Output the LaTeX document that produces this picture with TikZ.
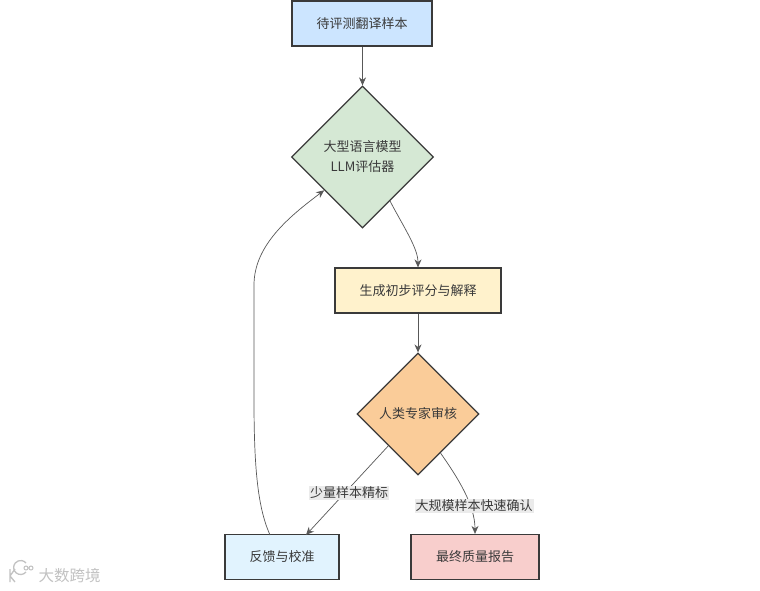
\documentclass[tikz,border=0pt]{standalone}
\usepackage{fontspec}
\setmainfont{Noto Sans CJK SC}
\usetikzlibrary{shapes.geometric,arrows.meta}
\definecolor{ink}{HTML}{3A3A3A}
\tikzset{
  x=1pt,y=-1pt,
  every node/.style={text=ink,font=\fontsize{13}{20}\selectfont},
  boxnode/.style={draw=ink,line width=1.2pt,rectangle,inner sep=0pt,minimum height=45pt},
  dianode/.style={draw=ink,line width=1.2pt,diamond,aspect=1,inner sep=0pt,align=center},
  flow/.style={draw=ink!85,line width=0.7pt,-{Stealth[length=8pt,width=7pt]}},
  edgelabel/.style={fill=black!8,inner sep=1pt,font=\fontsize{13}{15}\selectfont}
}
\begin{document}
\begin{tikzpicture}
\useasboundingbox (0,0) rectangle (760,591);
\fill[white] (0,0) rectangle (760,591);
\node[boxnode,fill={rgb,255:red,204;green,229;blue,255},minimum width=140pt] (A) at (362,23.5) {待评测翻译样本};
\node[dianode,fill={rgb,255:red,213;green,232;blue,212},minimum width=142pt,minimum height=142pt] (B) at (362.5,157) {大型语言模型\\LLM评估器};
\node[boxnode,fill={rgb,255:red,255;green,242;blue,204},minimum width=166pt] (C) at (418,290.5) {生成初步评分与解释};
\node[dianode,fill={rgb,255:red,250;green,204;blue,153},minimum width=122pt,minimum height=122pt] (D) at (418,414) {人类专家审核};
\node[boxnode,fill={rgb,255:red,225;green,243;blue,254},minimum width=114pt] (E) at (282,557) {反馈与校准};
\node[boxnode,fill={rgb,255:red,248;green,206;blue,204},minimum width=128pt] (F) at (475,557) {最终质量报告};
\coordinate (Eout) at (270,535);
\coordinate (Eend) at (306,535);
\draw[flow] (A.south -| B.north) -- (B.north);
\draw[flow] (B.-58) .. controls (403,226) and (418,248) .. (C.north);
\draw[flow] (C.south) -- (D.north);
\draw[flow] (D.-133) -- (Eend);
\draw[flow] (D.-60) .. controls (458,478) and (475,505) .. (F.north);
\node[edgelabel] (L1) at (349,493) {少量样本精标};
\node[edgelabel] (L2) at (474,506) {大规模样本快速确认};
\draw[flow] (Eout) .. controls (258,508) and (254,470) .. (254,400) -- (254,285) .. controls (254,245) and (290,216) .. (B.221);
\node[text=black!24,font=\fontsize{15.5}{15.5}\selectfont] (W) at (69.5,576) {大数跨境};
\draw[black!24,line width=1.3pt] (10,569) -- (10,582) (10,576) -- (15,569) (10,576) -- (15,582);
\draw[black!24,line width=1.3pt] (26,572) arc (40:320:7);
\draw[black!24,line width=1pt] (26,568) circle (2) (31,568) circle (2);
\end{tikzpicture}
\end{document}
